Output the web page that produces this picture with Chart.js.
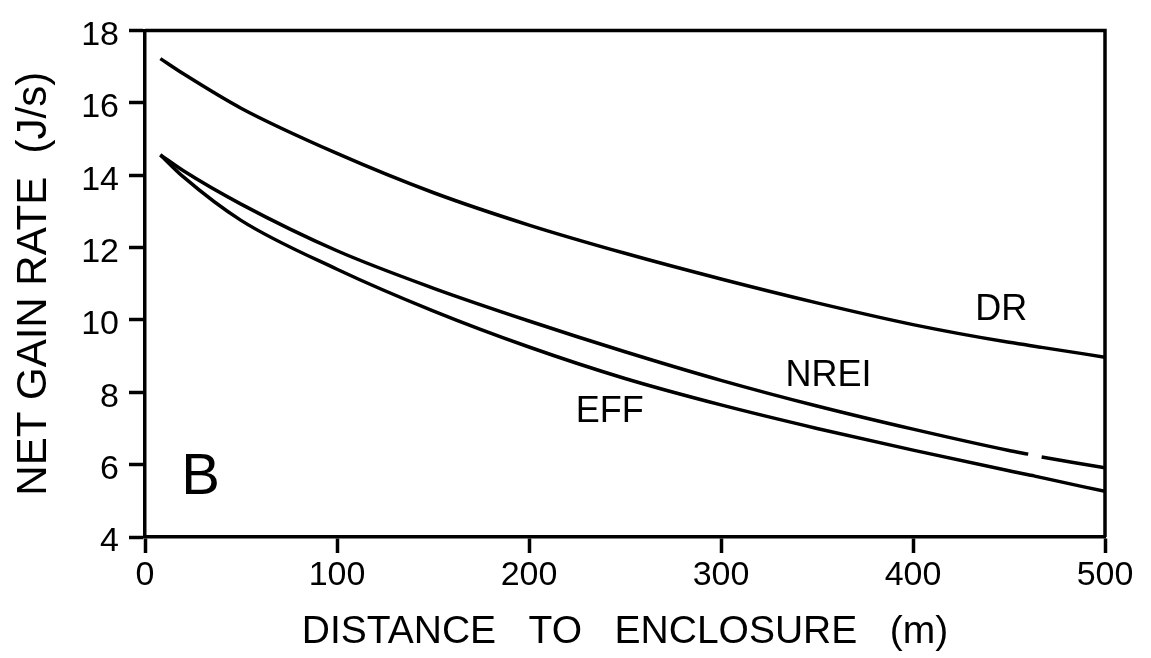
<!DOCTYPE html>
<html>
<head>
<meta charset="utf-8">
<title>Net gain rate vs distance to enclosure</title>
<script src="https://cdn.jsdelivr.net/npm/chart.js@4.4.1/dist/chart.umd.min.js"></script>
<style>
    html, body { margin: 0; padding: 0; background: #ffffff; }
    #wrap { width: 1151px; height: 658px; position: relative; }
</style>
</head>
<body>
<div id="wrap"><canvas id="gainChart"></canvas></div>
<script>
// distance to enclosure (m) and net gain rate (J/s) for each currency
const distance = [8, 20, 50, 100, 150, 200, 250, 300, 350, 400, 450, 460, 463, 467, 500];
const drRate   = [17.22, 16.80, 15.85, 14.60, 13.52, 12.62, 11.84, 11.13, 10.47, 9.87, 9.38, 9.30, 9.27, 9.24, 8.97];
const nreiRate = [14.56, 14.12, 13.20, 11.91, 10.88, 9.97, 9.12, 8.33, 7.62, 6.98, 6.39, 6.29, null, 6.21, 5.91];
const effRate  = [14.56, 13.95, 12.75, 11.40, 10.25, 9.25, 8.38, 7.65, 7.00, 6.40, 5.83, 5.72, 5.69, 5.64, 5.26];

const xTicks = [0, 100, 200, 300, 400, 500];
const yTicks = [4, 6, 8, 10, 12, 14, 16, 18];

// curve names, written next to each line (data coordinates)
const curveNames = ['DR', 'NREI', 'EFF'];
const nameX = [446, 356, 242];
const nameY = [10.28, 8.46, 7.44];
const panelLetter = 'B';
const panelAt = [29, 5.62];

const FONT = '"Liberation Sans", Arial, Helvetica, sans-serif';
const INK = '#000000';

function toPoints(ys) {
    return distance.map((d, i) => ({ x: d, y: ys[i] }));
}

function lineSet(label, ys) {
    return {
        label: label,
        data: toPoints(ys),
        borderColor: INK,
        borderWidth: 3.5,
        pointRadius: 0,
        fill: false,
        spanGaps: false,
        cubicInterpolationMode: 'monotone'
    };
}

// box frame on top/right plus the text inside the plot
const panelDecor = {
    id: 'panelDecor',
    afterDatasetsDraw(chart) {
        const { ctx, chartArea: a, scales: { x, y } } = chart;
        ctx.save();
        ctx.strokeStyle = INK;
        ctx.lineWidth = 3.5;
        ctx.beginPath();
        ctx.moveTo(a.left, a.top);
        ctx.lineTo(a.right, a.top);
        ctx.lineTo(a.right, a.bottom);
        ctx.stroke();

        ctx.fillStyle = INK;
        ctx.textAlign = 'center';
        ctx.textBaseline = 'middle';
        ctx.font = '36px ' + FONT;
        curveNames.forEach((name, i) => {
            ctx.fillText(name, x.getPixelForValue(nameX[i]), y.getPixelForValue(nameY[i]));
        });
        ctx.font = '58px ' + FONT;
        ctx.fillText(panelLetter, x.getPixelForValue(panelAt[0]), y.getPixelForValue(panelAt[1]));
        ctx.restore();
    }
};

function axisGrid() {
    return {
        drawOnChartArea: false,
        drawTicks: true,
        tickLength: 16,
        tickWidth: 3.5,
        tickColor: INK
    };
}

window.addEventListener('load', function () {
    const ctx = document.getElementById('gainChart').getContext('2d');
    new Chart(ctx, {
        type: 'line',
        data: {
            datasets: [
                lineSet('DR', drRate),
                lineSet('NREI', nreiRate),
                lineSet('EFF', effRate)
            ]
        },
        options: {
            responsive: true,
            maintainAspectRatio: false,
            animation: false,
            layout: { padding: { top: 24, right: 46, left: 0, bottom: 0 } },
            plugins: {
                legend: { display: false },
                tooltip: { enabled: false }
            },
            scales: {
                x: {
                    type: 'linear',
                    min: 0,
                    max: 500,
                    afterFit: (scale) => { scale.height = 121; },
                    afterBuildTicks: (scale) => { scale.ticks = xTicks.map(v => ({ value: v })); },
                    border: { display: true, color: INK, width: 3.5 },
                    grid: axisGrid(),
                    ticks: {
                        color: INK,
                        padding: 2,
                        maxRotation: 0,
                        font: { family: FONT, size: 34 }
                    },
                    title: {
                        display: true,
                        text: 'DISTANCE   TO   ENCLOSURE   (m)',
                        color: INK,
                        font: { family: FONT, size: 39 },
                        padding: { top: 0, bottom: 2 }
                    }
                },
                y: {
                    min: 4,
                    max: 18,
                    afterFit: (scale) => { scale.width = 145; },
                    afterBuildTicks: (scale) => { scale.ticks = yTicks.map(v => ({ value: v })); },
                    border: { display: true, color: INK, width: 3.5 },
                    grid: axisGrid(),
                    ticks: {
                        color: INK,
                        padding: 10,
                        labelOffset: 5,
                        font: { family: FONT, size: 34 }
                    },
                    title: {
                        display: true,
                        text: 'NET GAIN RATE  (J/s)',
                        color: INK,
                        font: { family: FONT, size: 42 },
                        padding: { top: 9, bottom: 0 }
                    }
                }
            }
        },
        plugins: [panelDecor]
    });
});
</script>
</body>
</html>
